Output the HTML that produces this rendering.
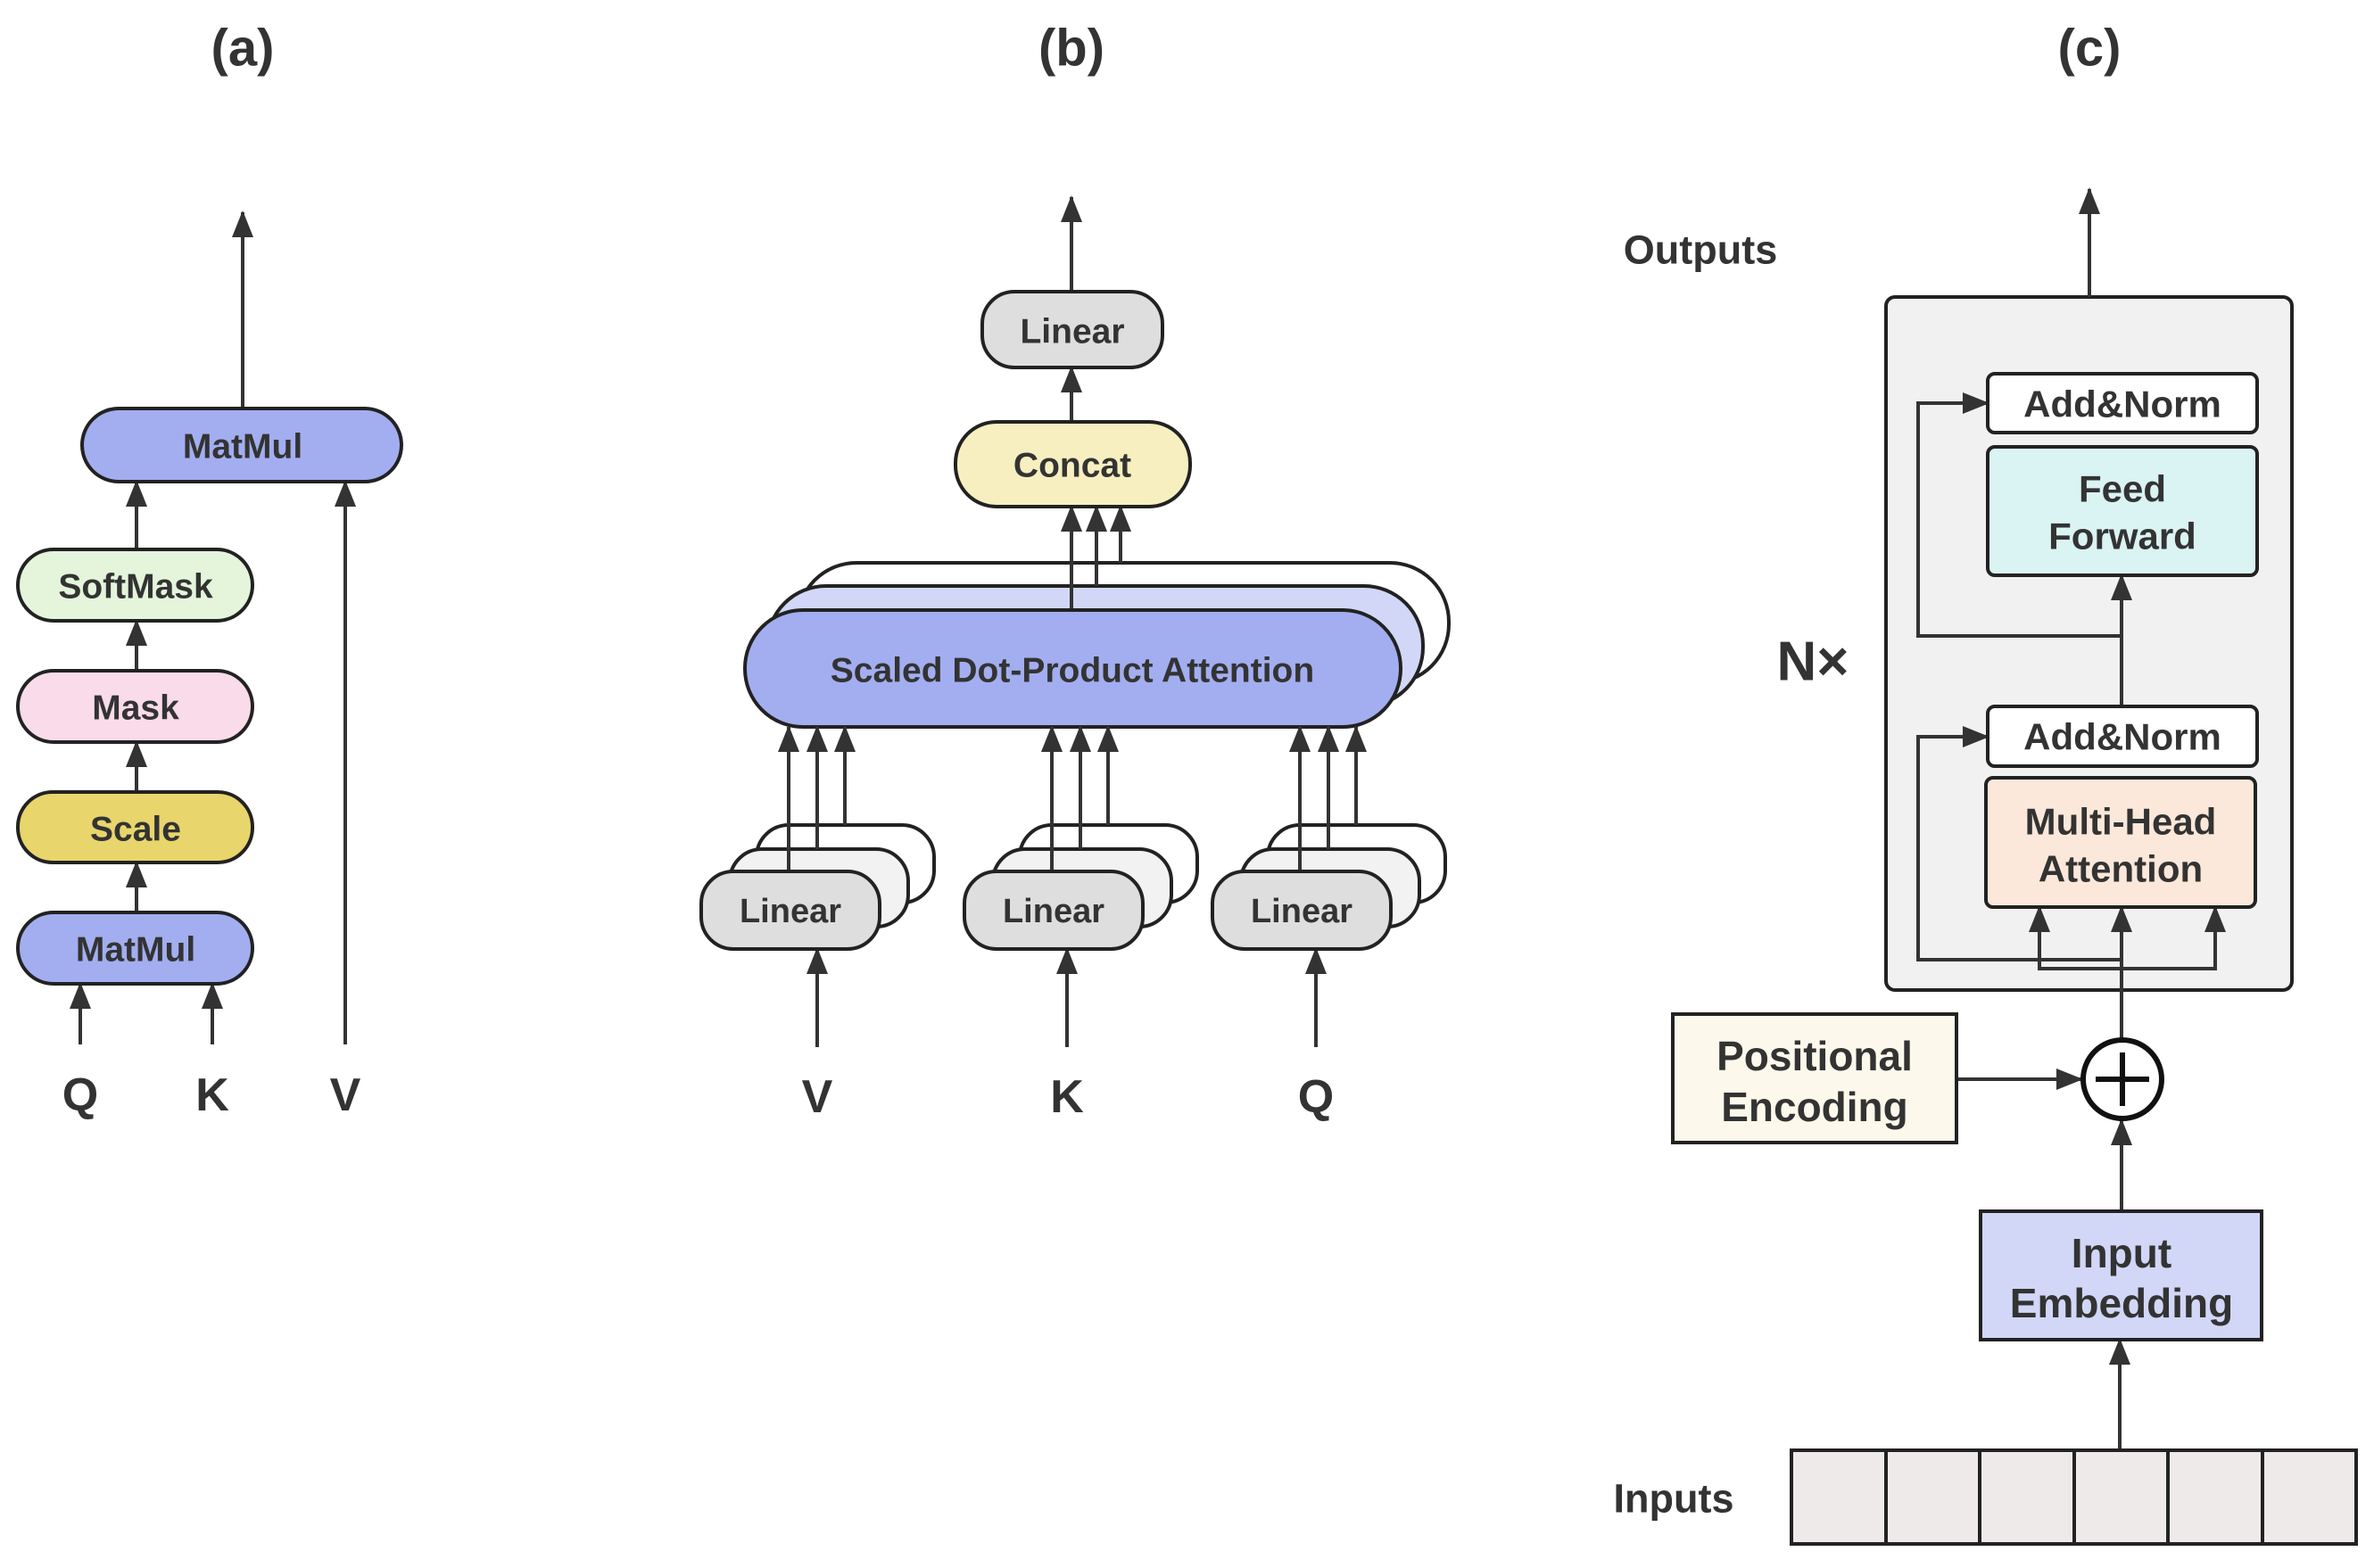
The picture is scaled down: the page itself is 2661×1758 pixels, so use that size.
<!DOCTYPE html>
<html><head><meta charset="utf-8"><style>
html,body{margin:0;padding:0;background:#fff}
svg{display:block}
text{font-family:"Liberation Sans",sans-serif;font-weight:bold;fill:#333;text-anchor:middle;dominant-baseline:central}
</style></head><body>
<svg width="2661" height="1758" viewBox="0 0 2661 1758" xmlns="http://www.w3.org/2000/svg">
<defs>
<marker id="a" markerUnits="userSpaceOnUse" markerWidth="30" markerHeight="34" refX="28" refY="12" orient="auto">
<path d="M0,0 L30,12 L0,24 Z" fill="#333"/>
</marker>
<g id="ls">
<rect x="62" y="925" width="199" height="87" rx="36" fill="#fff" stroke="#222" stroke-width="4"/>
<rect x="32" y="952" width="200" height="87" rx="36" fill="#f2f2f2" stroke="#222" stroke-width="4"/>
<g stroke="#333" stroke-width="4">
<line x1="161" y1="925" x2="161" y2="815" marker-end="url(#a)"/>
<line x1="130" y1="952" x2="130" y2="815" marker-end="url(#a)"/>
<line x1="98" y1="977" x2="98" y2="815" marker-end="url(#a)"/>
</g>
<rect x="0" y="977" width="200" height="87" rx="36" fill="#dedede" stroke="#222" stroke-width="4"/>
<text x="100" y="1022" font-size="38">Linear</text>
</g>
</defs>
<g stroke="#333" stroke-width="4" fill="none">
<!-- (a) -->
<line x1="272" y1="458" x2="272" y2="238" marker-end="url(#a)"/>
<line x1="153" y1="616" x2="153" y2="540" marker-end="url(#a)"/>
<line x1="153" y1="752" x2="153" y2="696" marker-end="url(#a)"/>
<line x1="153" y1="888" x2="153" y2="832" marker-end="url(#a)"/>
<line x1="153" y1="1023" x2="153" y2="967" marker-end="url(#a)"/>
<line x1="90" y1="1171" x2="90" y2="1103" marker-end="url(#a)"/>
<line x1="238" y1="1171" x2="238" y2="1103" marker-end="url(#a)"/>
<line x1="387" y1="1171" x2="387" y2="540" marker-end="url(#a)"/>
<line x1="916" y1="1174" x2="916" y2="1064" marker-end="url(#a)"/>
<line x1="1196" y1="1174" x2="1196" y2="1064" marker-end="url(#a)"/>
<line x1="1475" y1="1174" x2="1475" y2="1064" marker-end="url(#a)"/>
</g>
<g stroke="#222" stroke-width="4">
<rect x="92" y="458" width="358" height="82" rx="41" fill="#a3aef0"/>
<rect x="20" y="616" width="263" height="80" rx="40" fill="#e4f5dc"/>
<rect x="20" y="752" width="263" height="80" rx="40" fill="#f9dbea"/>
<rect x="20" y="888" width="263" height="79" rx="39" fill="#e8d56c"/>
<rect x="20" y="1023" width="263" height="80" rx="40" fill="#a3aef0"/>
</g>
<g font-size="39">
<text x="272" y="501">MatMul</text>
<text x="152" y="658">SoftMask</text>
<text x="152" y="794">Mask</text>
<text x="152" y="930">Scale</text>
<text x="152" y="1065">MatMul</text>
</g>
<g font-size="52">
<text x="90" y="1228">Q</text><text x="238" y="1228">K</text><text x="387" y="1228">V</text>
<text x="272" y="54" font-size="58">(a)</text>
<text x="1201" y="54" font-size="58">(b)</text>
<text x="2342" y="54" font-size="58">(c)</text>
</g>

<!-- (b) -->
<g stroke="#222" stroke-width="4">
<rect x="894" y="631" width="730" height="135" rx="66" fill="#fff"/>
<rect x="860" y="657" width="735" height="135" rx="66" fill="#d2d7f7"/>
</g>
<g stroke="#333" stroke-width="4" fill="none">
<line x1="1201" y1="327" x2="1201" y2="221" marker-end="url(#a)"/>
<line x1="1201" y1="473" x2="1201" y2="412" marker-end="url(#a)"/>
<line x1="1201" y1="684" x2="1201" y2="568" marker-end="url(#a)"/>
<line x1="1229" y1="657" x2="1229" y2="568" marker-end="url(#a)"/>
<line x1="1256" y1="631" x2="1256" y2="568" marker-end="url(#a)"/>
</g>
<g stroke="#222" stroke-width="4">
<rect x="835" y="684" width="735" height="131" rx="65" fill="#a3aef0"/>
<rect x="1101" y="327" width="202" height="85" rx="36" fill="#dedede"/>
<rect x="1071" y="473" width="263" height="95" rx="46" fill="#f7efc0"/>
</g>
<text x="1202" y="752" font-size="39">Scaled Dot-Product Attention</text>
<text x="1202" y="372" font-size="39">Linear</text>
<text x="1202" y="522" font-size="39">Concat</text>

<use href="#ls" x="786"/>
<use href="#ls" x="1081"/>
<use href="#ls" x="1359"/>
<g font-size="52">
<text x="916" y="1230">V</text><text x="1196" y="1230">K</text><text x="1475" y="1230">Q</text>
</g>

<!-- (c) -->
<text x="1906" y="280" font-size="45">Outputs</text>
<text x="2032" y="742" font-size="62">N×</text>
<text x="1876" y="1680" font-size="45">Inputs</text>
<rect x="2114" y="333" width="455" height="777" rx="10" fill="#f1f1f1" stroke="#222" stroke-width="4"/>
<g stroke="#333" stroke-width="4" fill="none">
<line x1="2342" y1="333" x2="2342" y2="212" marker-end="url(#a)"/>
<line x1="2378" y1="792" x2="2378" y2="645" marker-end="url(#a)"/>
<polyline points="2378,713 2150,713 2150,452 2228,452" marker-end="url(#a)"/>
<polyline points="2378,1076 2150,1076 2150,826 2228,826" marker-end="url(#a)"/>
<line x1="2378" y1="1164" x2="2378" y2="1017" marker-end="url(#a)"/>
<polyline points="2378,1086 2286,1086 2286,1017" marker-end="url(#a)"/>
<polyline points="2378,1086 2483,1086 2483,1017" marker-end="url(#a)"/>
<line x1="2193" y1="1210" x2="2333" y2="1210" marker-end="url(#a)"/>
<line x1="2378" y1="1358" x2="2378" y2="1256" marker-end="url(#a)"/>
<line x1="2376" y1="1626" x2="2376" y2="1502" marker-end="url(#a)"/>
</g>
<g stroke="#222" stroke-width="4">
<rect x="2228" y="419" width="302" height="66" rx="8" fill="#fff"/>
<rect x="2228" y="501" width="302" height="144" rx="8" fill="#daf3f3"/>
<rect x="2228" y="792" width="302" height="67" rx="8" fill="#fff"/>
<rect x="2226" y="872" width="302" height="145" rx="8" fill="#fbe8da"/>
<rect x="1875" y="1137" width="318" height="144" fill="#fcf9ec"/>
<rect x="2220" y="1358" width="315" height="144" fill="#d2d7f7"/>
<circle cx="2379" cy="1210" r="44" fill="#fff" stroke="#111" stroke-width="6"/>
<line x1="2349" y1="1210" x2="2409" y2="1210" stroke="#111" stroke-width="6"/>
<line x1="2379" y1="1180" x2="2379" y2="1240" stroke="#111" stroke-width="6"/>
</g>
<g stroke="#222" stroke-width="4" fill="#efeaea">
<rect x="2008" y="1626" width="106" height="105"/>
<rect x="2114" y="1626" width="105" height="105"/>
<rect x="2219" y="1626" width="106" height="105"/>
<rect x="2325" y="1626" width="105" height="105"/>
<rect x="2430" y="1626" width="106" height="105"/>
<rect x="2536" y="1626" width="105" height="105"/>
</g>
<g font-size="42">
<text x="2379" y="453">Add&amp;Norm</text>
<text x="2379" y="548">Feed</text>
<text x="2379" y="601">Forward</text>
<text x="2379" y="826">Add&amp;Norm</text>
<text x="2377" y="921">Multi-Head</text>
<text x="2377" y="974">Attention</text>
<text x="2034" y="1184" font-size="46">Positional</text>
<text x="2034" y="1241" font-size="46">Encoding</text>
<text x="2378" y="1405" font-size="46">Input</text>
<text x="2378" y="1461" font-size="46">Embedding</text>
</g>
</svg>
</body></html>
